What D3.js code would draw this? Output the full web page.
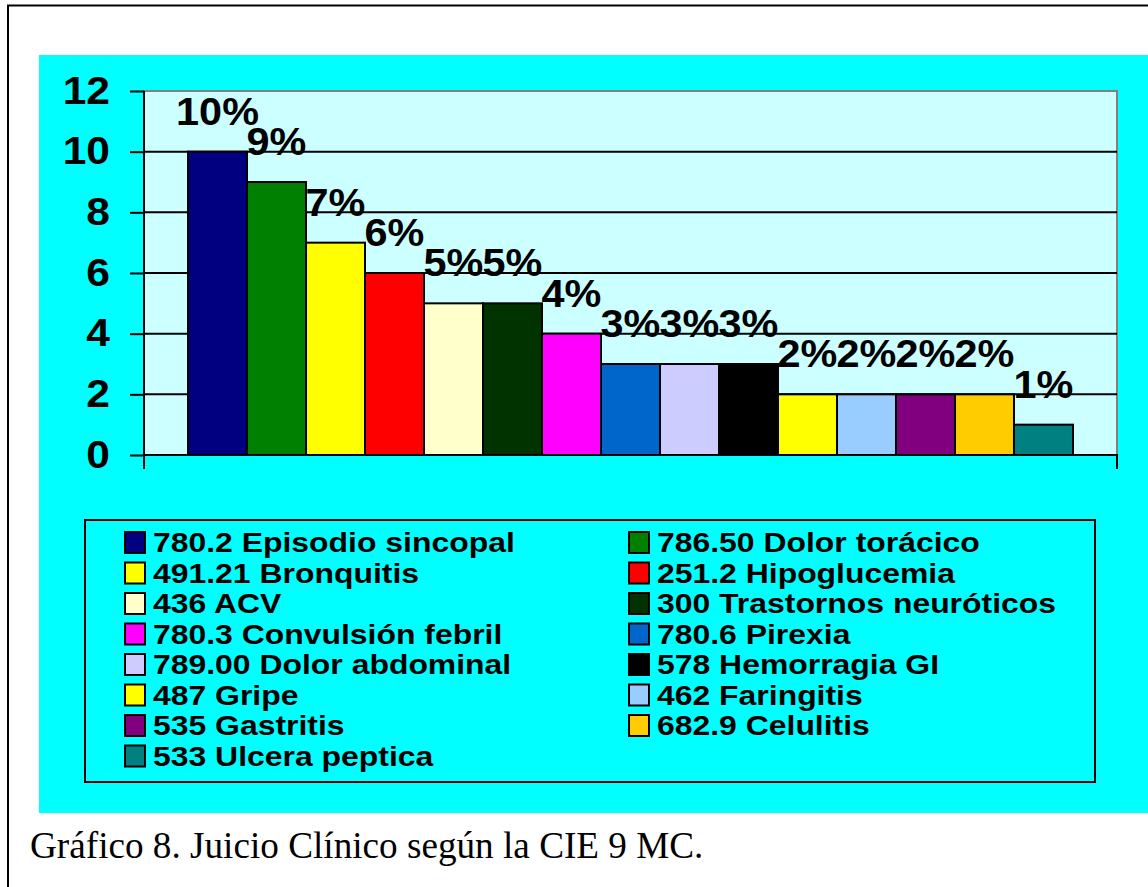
<!DOCTYPE html>
<html>
<head>
<meta charset="utf-8">
<script src="https://cdn.jsdelivr.net/npm/d3@7"></script>
<style>
  body { margin: 0; background: #fff; }
  svg text { font-family: "Liberation Sans", Arial, sans-serif; }
</style>
</head>
<body>
<div id="box-div"></div>
<script>
// data
const categories = ['780.2 Episodio sincopal', '786.50 Dolor torácico', '491.21 Bronquitis',
    '251.2 Hipoglucemia', '436 ACV', '300 Trastornos neuróticos', '780.3 Convulsión febril',
    '780.6 Pirexia', '789.00 Dolor abdominal', '578 Hemorragia GI', '487 Gripe',
    '462 Faringitis', '535 Gastritis', '682.9 Celulitis', '533 Ulcera peptica'];
const values = [10, 9, 7, 6, 5, 5, 4, 3, 3, 3, 2, 2, 2, 2, 1];
const pctLabels = ['10%', '9%', '7%', '6%', '5%', '5%', '4%', '3%', '3%', '3%', '2%', '2%', '2%', '2%', '1%'];
const colors = ['#000080', '#008000', '#FFFF00', '#FF0000', '#FFFFCC', '#003300', '#FF00FF',
    '#0066CC', '#CCCCFF', '#000000', '#FFFF00', '#99CCFF', '#800080', '#FFCC00', '#008080'];
const yTicks = [0, 2, 4, 6, 8, 10, 12];
const caption = 'Gráfico 8. Juicio Clínico según la CIE 9 MC.';

const dms = { width: 1148, height: 887 };
const plot = { left: 144, right: 1117, top: 91, bottom: 455 };

const svg = d3.select('#box-div').append('svg')
    .attr('width', dms.width)
    .attr('height', dms.height);

// outer frame
svg.append('path')
    .attr('d', `M8,${dms.height} V5.5 H${dms.width}`)
    .attr('fill', 'none').attr('stroke', '#000').attr('stroke-width', 2);

// cyan chart area
svg.append('rect')
    .attr('x', 39).attr('y', 55)
    .attr('width', dms.width - 39).attr('height', 813 - 55)
    .attr('fill', '#00FFFF');

const x = d3.scaleBand()
    .domain(d3.range(values.length))
    .range([plot.left, plot.right])
    .paddingInner(0)
    .paddingOuter(0.746);

const y = d3.scaleLinear()
    .domain([0, 12])
    .range([plot.bottom, plot.top]);

// plot background
svg.append('rect')
    .attr('x', plot.left).attr('y', plot.top)
    .attr('width', plot.right - plot.left).attr('height', plot.bottom - plot.top)
    .attr('fill', '#CCFFFF')
    .attr('stroke', '#808080').attr('stroke-width', 2);

// gridlines
svg.append('g').selectAll('line')
    .data(yTicks.filter(d => d > 0 && d < 12))
    .join('line')
    .attr('x1', plot.left).attr('x2', plot.right)
    .attr('y1', d => y(d)).attr('y2', d => y(d))
    .attr('stroke', '#000').attr('stroke-width', 2);

// bars
svg.append('g').selectAll('rect')
    .data(values)
    .join('rect')
    .attr('x', (d, i) => x(i))
    .attr('y', d => y(d))
    .attr('width', x.bandwidth())
    .attr('height', d => y(0) - y(d))
    .attr('fill', (d, i) => colors[i])
    .attr('stroke', '#000').attr('stroke-width', 2);

// y axis (text is a bit wider in the original, so stretch it)
const tickStretch = 1.12;
const yAxis = d3.axisLeft(y).tickValues(yTicks).tickSize(14).tickPadding(20);
const gy = svg.append('g')
    .attr('transform', `translate(${plot.left},0)`)
    .call(yAxis);
gy.select('.domain').attr('stroke', '#000').attr('stroke-width', 2).attr('d', `M0,${plot.top}V${plot.bottom}`);
gy.selectAll('.tick line').attr('stroke', '#000').attr('stroke-width', 2);
gy.selectAll('.tick text')
    .attr('x', -34 / tickStretch)
    .attr('transform', `scale(${tickStretch},1)`)
    .attr('font-family', '"Liberation Sans", Arial, sans-serif')
    .attr('font-size', 38).attr('font-weight', 'bold').attr('fill', '#000');

// x axis line with end ticks
svg.append('path')
    .attr('d', `M${plot.left},${plot.bottom + 14}V${plot.bottom}H${plot.right}V${plot.bottom + 14}`)
    .attr('fill', 'none').attr('stroke', '#000').attr('stroke-width', 2);

// data labels
svg.append('g').selectAll('text')
    .data(values)
    .join('text')
    .attr('transform', (d, i) => `translate(${x(i) + x.bandwidth() / 2},${y(d) - 27}) scale(1.09,1)`)
    .attr('text-anchor', 'middle')
    .attr('font-size', 38).attr('font-weight', 'bold')
    .text((d, i) => pctLabels[i]);

// legend
const legend = svg.append('g');
legend.append('rect')
    .attr('x', 85).attr('y', 520)
    .attr('width', 1095 - 85).attr('height', 782 - 520)
    .attr('fill', '#00FFFF').attr('stroke', '#000').attr('stroke-width', 2);

const item = legend.selectAll('g.item')
    .data(categories)
    .join('g')
    .attr('class', 'item')
    .attr('transform', (d, i) => `translate(${i % 2 === 0 ? 125 : 629},${542 + Math.floor(i / 2) * 30.5})`);

item.append('rect')
    .attr('x', 0).attr('y', -10)
    .attr('width', 20).attr('height', 21)
    .attr('fill', (d, i) => colors[i])
    .attr('stroke', '#000').attr('stroke-width', 2);

item.append('text')
    .attr('transform', 'translate(28,10) scale(1.14,1)')
    .attr('font-size', 28).attr('font-weight', 'bold')
    .text(d => d);

// caption
svg.append('text')
    .attr('x', 30).attr('y', 858)
    .style('font-family', '"Liberation Serif", "Times New Roman", serif')
    .attr('font-size', 37.2)
    .text(caption);
</script>
</body>
</html>
